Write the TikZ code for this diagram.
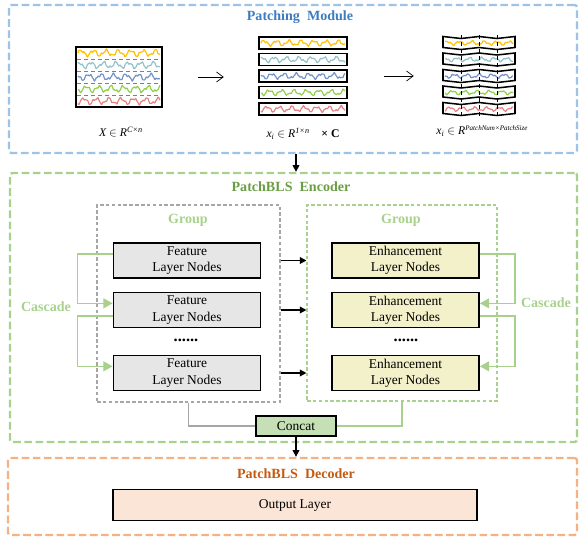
\documentclass[tikz,border=0pt]{standalone}
\usepackage{fontspec}
\setmainfont{Liberation Serif}
\usetikzlibrary{positioning,arrows.meta}
\definecolor{pblue}{HTML}{9DC3E6}
\definecolor{pbluet}{HTML}{3D7CC0}
\definecolor{egreen}{HTML}{A9D18E}
\definecolor{egreent}{HTML}{6A9E45}
\definecolor{dorange}{HTML}{F4B183}
\definecolor{dorangt}{HTML}{C55A11}
\definecolor{fgray}{HTML}{E7E6E6}
\definecolor{eyell}{HTML}{F3F1C9}
\definecolor{cgreen}{HTML}{C5E0B4}
\definecolor{opeach}{HTML}{FBE5D6}
\definecolor{wora}{HTML}{FFC000}
\definecolor{wteal}{HTML}{92C2CA}
\definecolor{wblue}{HTML}{7092C8}
\definecolor{wgreen}{HTML}{8ED04B}
\definecolor{wred}{HTML}{E58080}
\tikzset{
  frm/.style={draw=#1,line width=2pt,dash pattern=on 6.5pt off 3pt,rounded corners=2pt,inner sep=0pt},
  grp/.style={draw=#1,line width=0.9pt,dash pattern=on 3pt off 2pt,inner sep=0pt},
  lay/.style={draw,line width=1.2pt,fill=#1,align=center,minimum width=4.42cm,minimum height=1.06cm,inner sep=0pt,font=\fontsize{11.5}{14}\selectfont},
  ttl/.style={font=\fontsize{12}{14}\selectfont\bfseries,text=#1},
  lbl/.style={font=\fontsize{10}{12}\selectfont,inner sep=1pt},
  flow/.style={-{Triangle[length=2mm,width=2mm]},line width=1.2pt},
  casc/.style={egreen,line width=1.2pt,-{Triangle[length=2.8mm,width=3mm]}},
  thin arr/.style={-{Straight Barb[length=2mm,width=3mm]},line width=0.6pt},
}
% one noisy channel signal: x0, x1, y, amplitude, phase, colour
\newcommand{\wavy}[6]{%
  \draw[#6,line width=1pt,line join=round] plot[domain=0:#2-#1,samples=120]
    ({#1+\x},{#3-#4*(0.6*sin(29*\x+#5)+0.28*sin(66*\x+2*#5)+0.12*sin(143*\x+3*#5))});}

\begin{document}
\begin{tikzpicture}[x=0.03cm,y=-0.03cm]
\useasboundingbox (0,0) rectangle (580,539);

% frames
\node[frm=pblue,minimum width=17.04cm,minimum height=4.44cm] (patch) at (293,79) {};
\node[frm=egreen,minimum width=17.01cm,minimum height=8.07cm] (enc) at (293.5,307.5) {};
\node[frm=dorange,minimum width=17.07cm,minimum height=2.31cm] (dec) at (292.5,496.5) {};
\node[ttl=pbluet] (tpatch) at (300,17) {Patching\ \ Module};
\node[ttl=egreent] (tenc) at (291,187) {PatchBLS\ \ Encoder};
\node[ttl=dorangt] (tdec) at (296,474) {PatchBLS\ \ Decoder};

% patching module
\node[draw,line width=1.3pt,minimum width=2.58cm,minimum height=1.8cm,inner sep=0pt] (sig) at (119,77) {};
\foreach \yy in {59,71,83,95} \draw[gray,dashed,line width=0.8pt] (77,\yy) -- (161,\yy);
\foreach \c/\yy/\p in {wora/53/0,wteal/65/70,wblue/77/140,wgreen/89/210,wred/101/280}
  \wavy{78}{160}{\yy}{4.2}{\p}{\c};

\node[minimum width=2.64cm,minimum height=2.4cm,inner sep=0pt] (chan) at (303,76) {};
\foreach \c/\yy/\p in {wora/43/0,wteal/59.5/70,wblue/76/140,wgreen/92.5/210,wred/109/280}{
  \draw[line width=1.3pt] (259,\yy-6) rectangle (347,\yy+6);
  \wavy{261}{345}{\yy}{3.6}{\p}{\c}
}

\node[minimum width=2.16cm,minimum height=2.4cm,inner sep=0pt] (ptch) at (479,76) {};
\foreach \c/\yy/\p in {wora/43/30,wteal/59.5/100,wblue/76/170,wgreen/92.5/240,wred/109/310}{
  \draw[line width=1.3pt,line join=miter] (443,\yy-6.5) -- (461,\yy-4.5) -- (479,\yy-6.5) -- (497,\yy-4.5) -- (515,\yy-6.5)
    -- (515,\yy+4.5) -- (497,\yy+6.5) -- (479,\yy+4.5) -- (461,\yy+6.5) -- (443,\yy+4.5) -- cycle;
  \wavy{445}{513}{\yy}{2.6}{\p}{\c}
}
\foreach \xx in {461,479,497} \draw[dashed,line width=0.6pt] (\xx,35) -- (\xx,118);

\draw[thin arr,shorten <=1.05cm,shorten >=1.05cm] (sig.east) -- (sig.east -| chan.west);
\draw[thin arr,shorten <=1.1cm,shorten >=0.87cm] (chan.east) -- (chan.east -| ptch.west);

\node[lbl] (lx) at (121,132) {\itshape X $\in$ R\textsuperscript{C×n}};
\node[lbl] (lxi) at (303,134) {\itshape x\textsubscript{i} $\in$ R\textsuperscript{1×n}\quad\upshape\bfseries × C};
\node[lbl] (lpa) at (482,131) {\itshape x\textsubscript{i} $\in$ R\raisebox{0.7ex}{\fontsize{6}{7}\selectfont PatchNum×PatchSize}};

% encoder
\node[grp=gray!70,minimum width=5.49cm,minimum height=5.91cm] (fgrp) at (188.5,303.5) {};
\node[grp=egreen,minimum width=5.7cm,minimum height=5.88cm] (egrp) at (402,303) {};
\node[ttl=egreen] (tg1) at (188,220) {Group};
\node[ttl=egreen] (tg2) at (401,220) {Group};

\node[lay=fgray] (f1) at (187,260.5) {Feature\\Layer Nodes};
\node[lay=fgray] (f2) at (187,310) {Feature\\Layer Nodes};
\node[lay=fgray] (f3) at (187,373) {Feature\\Layer Nodes};
\node[lay=eyell] (e1) at (405.5,260.5) {Enhancement\\Layer Nodes};
\node[lay=eyell] (e2) at (405.5,310) {Enhancement\\Layer Nodes};
\node[lay=eyell] (e3) at (405.5,373) {Enhancement\\Layer Nodes};
\node[font=\fontsize{14}{16}\selectfont\bfseries] (d1) at (186,340) {......};
\node[font=\fontsize{14}{16}\selectfont\bfseries] (d2) at (406,340) {......};

\foreach \i in {1,2,3} \draw[flow] (fgrp.east |- f\i) -- (egrp.west |- e\i);

\draw[casc] ([yshift=2mm]f1.west) -- ++(-1.05cm,0) |- ([yshift=2mm]f2.west);
\draw[casc] ([yshift=-1.8mm]f2.west) -- ++(-1.05cm,0) |- ([yshift=2mm]f3.west);
\draw[casc] ([yshift=2mm]e1.east) -- ++(1.05cm,0) |- ([yshift=2mm]e2.east);
\draw[casc] ([yshift=-1.8mm]e2.east) -- ++(1.05cm,0) |- ([yshift=2mm]e3.east);
\node[ttl=egreen] (tc1) at (46,307) {Cascade};
\node[ttl=egreen] (tc2) at (546,303) {Cascade};

\node[lay=cgreen,minimum width=2.4cm,minimum height=0.6cm] (cc) at (296,426) {Concat};
\draw[gray!70,line width=1.2pt] (fgrp.south) |- (cc.west);
\draw[egreen,line width=1.2pt] (egrp.south) |- (cc.east);

% decoder
\node[lay=opeach,minimum width=10.92cm,minimum height=0.93cm] (out) at (295,505) {Output Layer};

\draw[flow] (patch.south -| cc) -- (enc.north -| cc);
\draw[flow] (cc.south) -- (dec.north -| cc);
\end{tikzpicture}
\end{document}
